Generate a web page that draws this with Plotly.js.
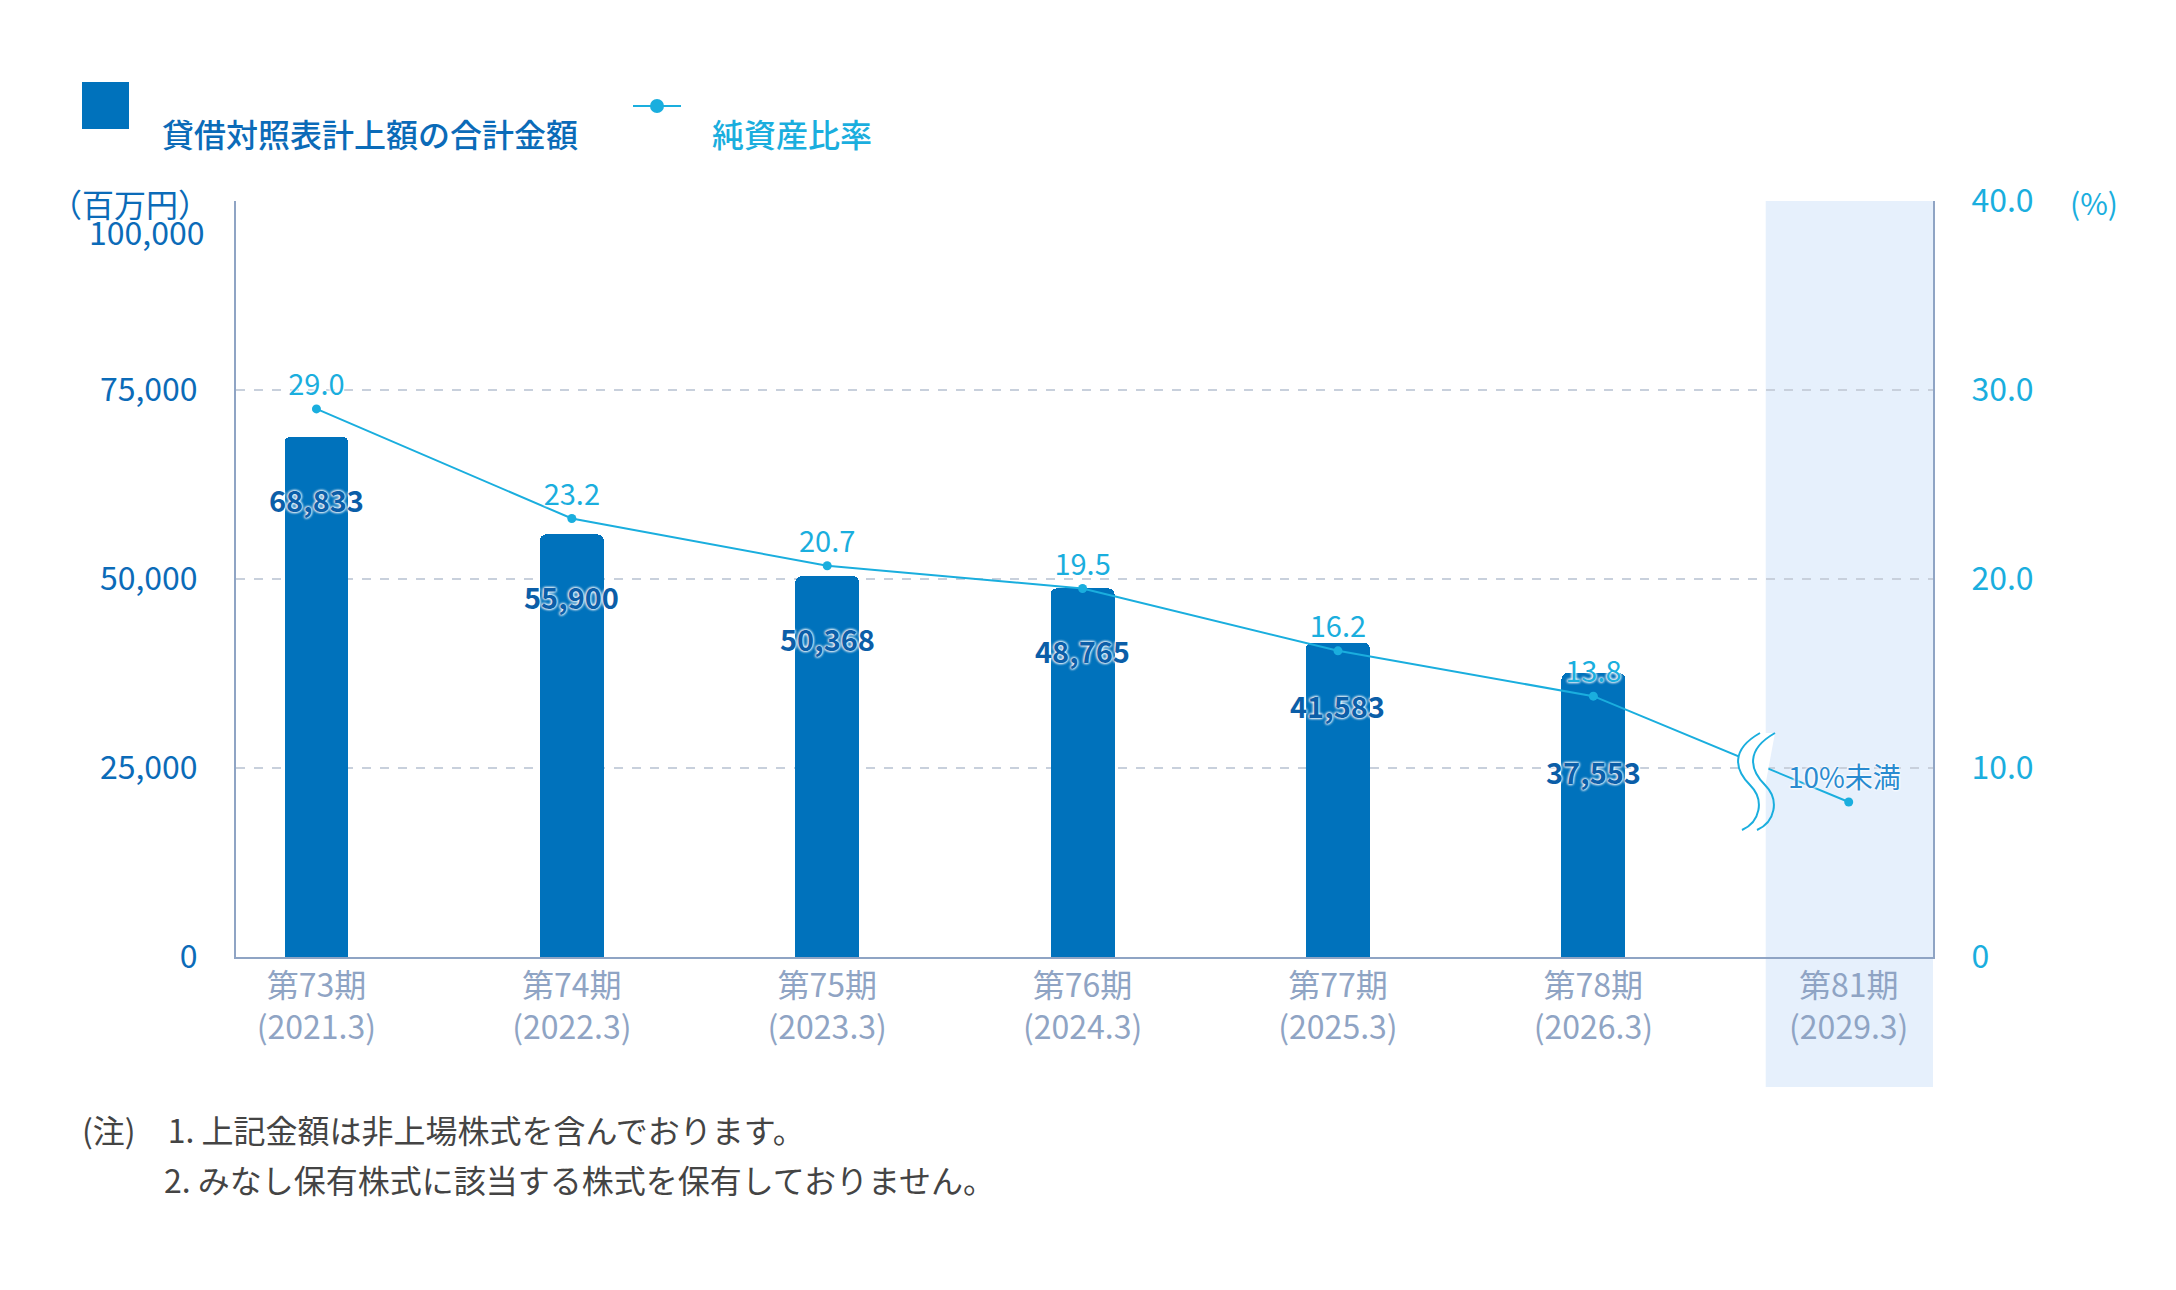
<!DOCTYPE html>
<html>
<head>
<meta charset="utf-8">
<script src="https://cdn.plot.ly/plotly-3.0.1.min.js"></script>
<style>html,body{margin:0;padding:0;background:#fff}#chart{width:2176px;height:1290px}</style>
</head>
<body>
<div id="chart"></div>
<script>
var periods = ["第73期", "第74期", "第75期", "第76期", "第77期", "第78期", "第81期"];
var fiscal = ["(2021.3)", "(2022.3)", "(2023.3)", "(2024.3)", "(2025.3)", "(2026.3)", "(2029.3)"];
var totalAmount = [68833, 55900, 50368, 48765, 41583, 37553, null];
var netAssetRatio = [29.0, 23.2, 20.7, 19.5, 16.2, 13.8, 8.2];
var ratioLabels = ["29.0", "23.2", "20.7", "19.5", "16.2", "13.8", ""];
var leftTicks = [0, 25000, 50000, 75000, 100000];
var leftTickText = ["0", "25,000", "50,000", "75,000", ""];
var rightTicks = [0, 10, 20, 30, 40];
var rightTickText = ["0", "10.0", "20.0", "30.0", "40.0"];

var FONT = "'Noto Sans CJK JP', 'Noto Sans', sans-serif";
var BLUE = "#0072BC", CYAN = "#1AAEDE", GREY = "#8FA4C4", DARK = "#0B6BB8";
var GLOW = "0 0 3px #fff, 0 0 3px #fff, 0 0 3px #fff";

var L = 236, T = 201, W = 1697, H = 756;
function px(x) { return (x - L) / W; }
function py(y) { return 1 - (y - T) / H; }

var cats = periods.map(function (p, i) { return p + "<br>" + fiscal[i]; });

var bars = {
  type: "bar", x: cats, y: totalAmount, width: 0.25,
  marker: { color: BLUE, cornerradius: 6 }, hoverinfo: "skip"
};

var ratio = {
  type: "scatter", mode: "lines+markers+text", x: cats, y: netAssetRatio, yaxis: "y2",
  line: { color: CYAN, width: 2 },
  marker: { color: CYAN, size: 9 },
  text: ratioLabels, textposition: "top center",
  textfont: { family: FONT, size: 29, color: CYAN, shadow: GLOW },
  cliponaxis: false, hoverinfo: "skip"
};

var ann = totalAmount.map(function (v, i) {
  if (v === null) return null;
  return {
    x: cats[i], y: v, yref: "y", showarrow: false,
    yshift: i === 5 ? -98 : -62,
    text: v.toLocaleString("en-US"),
    font: { family: FONT, size: 29, weight: 600, color: "#0B5EA8", shadow: GLOW }
  };
}).filter(Boolean);

ann.push({
  x: cats[6], y: netAssetRatio[6], yref: "y2", showarrow: false, yshift: 26, xshift: -4,
  text: "10%未満", font: { family: FONT, size: 28, color: "#2A8BD0", shadow: GLOW }
});
ann.push({ xref: "paper", yref: "y", x: 0, y: leftTicks[4], xanchor: "right", xshift: -30, yshift: -30,
  showarrow: false, text: "100,000", font: { family: FONT, size: 32, color: DARK } });
ann.push({ xref: "paper", yref: "paper", x: px(48), y: py(178), xanchor: "left", showarrow: false,
  text: "（百万円）", font: { family: FONT, size: 32, color: DARK } });
ann.push({ xref: "paper", yref: "paper", x: px(2068), y: py(178), xanchor: "left", showarrow: false,
  text: "(%)", font: { family: FONT, size: 30, color: CYAN } });
ann.push({ xref: "paper", yref: "paper", x: px(80), y: py(1154), xanchor: "left", showarrow: false,
  text: "(注)　1. 上記金額は非上場株式を含んでおります。", font: { family: FONT, size: 32, color: "#444" } });
ann.push({ xref: "paper", yref: "paper", x: px(162), y: py(1204), xanchor: "left", showarrow: false,
  text: "2. みなし保有株式に該当する株式を保有しておりません。", font: { family: FONT, size: 32, color: "#444" } });
// legend
ann.push({ xref: "paper", yref: "paper", x: px(160), y: py(108), xanchor: "left", showarrow: false,
  text: "貸借対照表計上額の合計金額", font: { family: FONT, size: 32, weight: 500, color: DARK } });
ann.push({ xref: "paper", yref: "paper", x: px(710), y: py(108), xanchor: "left", showarrow: false,
  text: "純資産比率", font: { family: FONT, size: 32, weight: 500, color: CYAN } });

function sCurve(dx) {
  var p = function (x, y) { return px(x + dx) + "," + py(y); };
  return "M" + p(1790, 733) + " C" + p(1760, 750) + " " + p(1765, 770) + " " + p(1780, 785) +
    " C" + p(1795, 800) + " " + p(1790, 822) + " " + p(1772, 830);
}
var BX = -30;

var shapes = [
  { type: "rect", xref: "x", yref: "paper", x0: 5.675, x1: 6.33, y0: -0.172, y1: 1,
    fillcolor: "#E6F0FC", line: { width: 0 }, layer: "below" },
  { type: "path", xref: "paper", yref: "paper",
    path: sCurve(BX) + " L" + px(1787 + BX) + "," + py(830) + " L" + px(1805 + BX) + "," + py(733) + " Z",
    fillcolor: "#fff", line: { width: 0 } },
  { type: "path", xref: "paper", yref: "paper", path: sCurve(BX), line: { color: CYAN, width: 2 } },
  { type: "path", xref: "paper", yref: "paper", path: sCurve(BX + 15), line: { color: CYAN, width: 2 } },
  // legend marks
  { type: "rect", xref: "paper", yref: "paper", x0: px(82), x1: px(129), y0: py(129), y1: py(82),
    fillcolor: BLUE, line: { width: 0 } },
  { type: "line", xref: "paper", yref: "paper", x0: px(633), x1: px(681), y0: py(106), y1: py(106),
    line: { color: CYAN, width: 2 } },
  { type: "circle", xref: "paper", yref: "paper", x0: px(650), x1: px(664), y0: py(113), y1: py(99),
    fillcolor: CYAN, line: { width: 0 } }
];

var layout = {
  width: 2176, height: 1290,
  margin: { l: L, r: 2176 - L - W, t: T, b: 1290 - T - H },
  paper_bgcolor: "#fff", plot_bgcolor: "rgba(0,0,0,0)",
  font: { family: FONT },
  showlegend: false,
  xaxis: {
    type: "category", range: [-0.315, 6.33],
    showline: true, linecolor: GREY, linewidth: 2, ticks: "", showgrid: false,
    tickfont: { family: FONT, size: 32, color: GREY }
  },
  yaxis: {
    range: [0, 100000], tickvals: leftTicks, ticktext: leftTickText,
    showline: true, linecolor: GREY, linewidth: 2, ticks: "",
    showgrid: true, gridcolor: "#C8D0DC", griddash: "dash", gridwidth: 2, zeroline: false,
    tickfont: { family: FONT, size: 32, color: DARK }, ticklabelstandoff: 30
  },
  yaxis2: {
    range: [0, 40], overlaying: "y", side: "right", tickvals: rightTicks, ticktext: rightTickText,
    showline: true, linecolor: GREY, linewidth: 2, ticks: "", showgrid: false, zeroline: false,
    tickfont: { family: FONT, size: 32, color: CYAN }, ticklabelstandoff: 30
  },
  annotations: ann,
  shapes: shapes,
  bargap: 0
};

Plotly.newPlot("chart", [bars, ratio], layout, { displayModeBar: false, staticPlot: true });
</script>
</body>
</html>
